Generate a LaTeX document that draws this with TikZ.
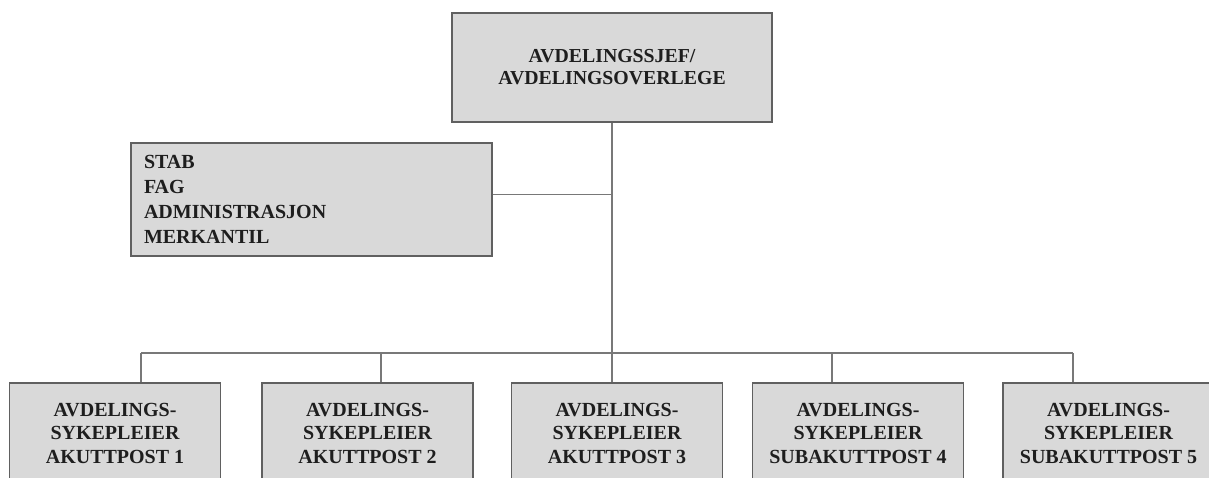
\documentclass[tikz,border=0pt]{standalone}
\usepackage{xcolor}
\usepackage{tikz}
\usepackage{fontspec}
\setmainfont{Liberation Serif}
\definecolor{boxfill}{HTML}{D9D9D9}
\definecolor{boxline}{HTML}{606060}
\definecolor{linegray}{HTML}{787878}
\definecolor{ink}{HTML}{1E1E1E}

\begin{document}
\begin{tikzpicture}[x=1pt, y=-1pt,
        unit/.style={draw=boxline, fill=boxfill, line width=1.8pt, text=ink, align=center, inner sep=0pt,
            font=\bfseries\fontsize{20}{23.5}\selectfont},
        post/.style={unit, minimum width=211pt, minimum height=100pt},
        wire/.style={draw=linegray, line width=1.6pt}]
                        \useasboundingbox (0,0) rectangle (1209,478);
                        \clip (0,0) rectangle (1209,478);
                        
                        \node (chief) at (612,67.5) [unit, minimum width=320pt, minimum height=109pt,
                            font=\bfseries\fontsize{19.8}{22}\selectfont] {AVDELINGSSJEF/\\AVDELINGSOVERLEGE};
                        \node (stab) at (311.5,199.5) [unit, align=left, text width=335pt, inner xsep=13pt,
                            minimum height=113pt, font=\bfseries\fontsize{20}{25}\selectfont] {STAB\\FAG\\ADMINISTRASJON\\MERKANTIL};
                        
                        \node (post1) at (115,433) [post] {AVDELINGS-\\SYKEPLEIER\\AKUTTPOST 1};
                        \node (post2) at (367.5,433) [post] {AVDELINGS-\\SYKEPLEIER\\AKUTTPOST 2};
                        \node (post3) at (617,433) [post] {AVDELINGS-\\SYKEPLEIER\\AKUTTPOST 3};
                        \node (post4) at (858,433) [post] {AVDELINGS-\\SYKEPLEIER\\SUBAKUTTPOST 4};
                        \node (post5) at (1108.5,433) [post] {AVDELINGS-\\SYKEPLEIER\\SUBAKUTTPOST 5};
                        
                        \coordinate (d1) at (141,353);
                        \coordinate (d2) at (381,353);
                        \coordinate (d3) at (612,353);
                        \coordinate (d4) at (832,353);
                        \coordinate (d5) at (1073,353);
                        \coordinate (s) at ([yshift=5pt]stab.east);
                        
                        \draw[wire] (chief.south) -- (d3);
                        \draw[wire] (s) -- (s -| chief.south);
                        
                        \draw[wire] (d1) -- (d5);
                        
                        \draw[wire] (d1) -- (d1 |- post1.north);
                        \draw[wire] (d2) -- (d2 |- post2.north);
                        \draw[wire] (d3) -- (d3 |- post3.north);
                        \draw[wire] (d4) -- (d4 |- post4.north);
                        \draw[wire] (d5) -- (d5 |- post5.north);
                    \end{tikzpicture}
\end{document}
